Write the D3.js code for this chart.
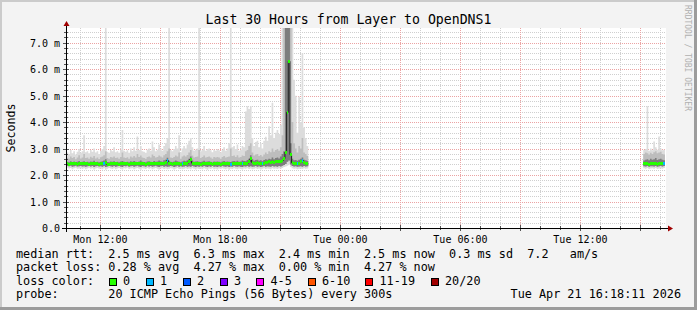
<!DOCTYPE html>
<html>
<head>
<meta charset="utf-8">
<script src="https://cdn.jsdelivr.net/npm/d3@7"></script>
<style>
html, body { margin: 0; padding: 0; background: #f3f3f3; }
svg { display: block; }
text { font-family: "DejaVu Sans Mono", monospace; }
</style>
</head>
<body>
<div id="chart"></div>
<script>
// chart text + data
const title = "Last 30 Hours from Layer to OpenDNS1";
const yUnit = "Seconds";
const watermark = "RRDTOOL / TOBI OETIKER";
const viewStart = new Date(2026, 3, 20, 10, 18, 11);
const viewEnd = new Date(2026, 3, 21, 16, 18, 11);
const yMax = 7.556;            // ms
const yTicks = [0, 1, 2, 3, 4, 5, 6, 7];
const xLabelTimes = [new Date(2026, 3, 20, 12), new Date(2026, 3, 20, 18), new Date(2026, 3, 21, 0),
                     new Date(2026, 3, 21, 6), new Date(2026, 3, 21, 12)];
const stepMinutes = 5;

// first block of samples (Mon 10:20 -> Mon 22:25), values in ms
const startA = new Date(2026, 3, 20, 10, 20);
const medianA = [
  2.42,2.41,2.42,2.43,2.42,2.42,2.41,2.42,2.43,2.42, 2.42,2.43,2.42,2.41,2.42,2.42,2.43,2.42,2.42,2.41,
  2.42,2.43,2.45,2.47,2.41,2.40,2.42,2.42,2.43,2.42, 2.42,2.41,2.42,2.43,2.42,2.42,2.42,2.41,2.43,2.42,
  2.43,2.42,2.42,2.42,2.44,2.42,2.42,2.41,2.42,2.43, 2.42,2.42,2.43,2.42,2.42,2.44,2.43,2.42,2.45,2.48,
  2.55,2.44,2.42,2.41,2.42,2.45,2.43,2.42,2.41,2.42, 2.44,2.43,2.45,2.52,2.60,2.45,2.42,2.42,2.43,2.42,
  2.41,2.42,2.44,2.42,2.42,2.43,2.42,2.41,2.42,2.42, 2.42,2.42,2.41,2.42,2.43,2.42,2.42,2.42,2.41,2.42,
  2.43,2.42,2.43,2.42,2.42,2.44,2.43,2.42,2.45,2.50, 2.62,2.48,2.43,2.45,2.46,2.43,2.44,2.42,2.45,2.48,
  2.46,2.50,2.48,2.52,2.48,2.50,2.52,2.50,2.52,2.55, 2.62,2.87,4.37,6.30,2.77,2.47,2.44,2.45,2.43,2.45,
  2.50,2.55,2.47,2.45,2.43];
const minA = [
  2.28,2.25,2.27,2.22,2.26,2.28,2.24,2.25,2.27,2.23, 2.26,2.22,2.25,2.28,2.24,2.26,2.21,2.25,2.27,2.24,
  2.25,2.22,2.26,2.20,2.24,2.27,2.25,2.23,2.26,2.22, 2.25,2.27,2.24,2.21,2.26,2.25,2.28,2.23,2.25,2.26,
  2.22,2.25,2.27,2.24,2.20,2.26,2.25,2.23,2.27,2.24, 2.26,2.22,2.25,2.27,2.24,2.21,2.25,2.26,2.23,2.25,
  2.22,2.24,2.26,2.25,2.21,2.24,2.27,2.23,2.25,2.22, 2.24,2.26,2.23,2.25,2.22,2.26,2.24,2.21,2.25,2.23,
  2.25,2.22,2.26,2.24,2.20,2.25,2.23,2.26,2.22,2.24, 2.21,2.25,2.23,2.26,2.24,2.22,2.25,2.20,2.24,2.23,
  2.26,2.24,2.22,2.25,2.23,2.21,2.25,2.24,2.26,2.23, 2.25,2.22,2.24,2.26,2.23,2.25,2.21,2.24,2.26,2.23,
  2.25,2.24,2.22,2.26,2.24,2.25,2.23,2.26,2.24,2.27, 2.30,2.32,2.35,2.40,2.30,2.26,2.24,2.25,2.22,2.24,
  2.25,2.23,2.26,2.24,2.25];
const lowA = [
  2.34,2.33,2.35,2.31,2.33,2.35,2.32,2.33,2.34,2.32, 2.33,2.31,2.33,2.35,2.32,2.34,2.30,2.33,2.34,2.32,
  2.33,2.31,2.34,2.30,2.32,2.34,2.33,2.31,2.34,2.31, 2.33,2.35,2.32,2.30,2.34,2.33,2.35,2.31,2.33,2.34,
  2.31,2.33,2.35,2.32,2.30,2.34,2.33,2.31,2.35,2.32, 2.34,2.31,2.33,2.35,2.32,2.30,2.33,2.34,2.31,2.33,
  2.31,2.32,2.34,2.33,2.30,2.32,2.35,2.31,2.33,2.31, 2.32,2.34,2.31,2.33,2.31,2.34,2.32,2.30,2.33,2.31,
  2.33,2.31,2.34,2.32,2.30,2.33,2.31,2.34,2.31,2.32, 2.30,2.33,2.31,2.34,2.32,2.31,2.33,2.30,2.32,2.31,
  2.34,2.32,2.31,2.33,2.31,2.30,2.33,2.32,2.34,2.31, 2.33,2.31,2.32,2.34,2.31,2.33,2.30,2.32,2.34,2.31,
  2.33,2.32,2.31,2.34,2.32,2.33,2.31,2.34,2.32,2.35, 2.38,2.42,2.50,2.55,2.40,2.34,2.32,2.33,2.31,2.32,
  2.33,2.31,2.34,2.32,2.33];
const coreA = [
  2.50,2.48,2.52,2.49,2.51,2.47,2.50,2.53,2.49,2.50, 2.52,2.49,2.50,2.48,2.51,2.50,2.54,2.49,2.50,2.48,
  2.50,2.52,2.55,2.60,2.49,2.48,2.51,2.50,2.52,2.49, 2.50,2.48,2.51,2.53,2.50,2.49,2.50,2.48,2.52,2.50,
  2.53,2.50,2.49,2.51,2.55,2.50,2.49,2.48,2.51,2.52, 2.50,2.49,2.53,2.50,2.51,2.55,2.52,2.50,2.56,2.58,
  2.65,2.54,2.50,2.49,2.51,2.55,2.52,2.50,2.48,2.51, 2.54,2.52,2.56,2.62,2.70,2.55,2.50,2.51,2.52,2.50,
  2.49,2.51,2.54,2.50,2.51,2.52,2.50,2.48,2.51,2.50, 2.51,2.50,2.48,2.51,2.53,2.50,2.51,2.50,2.49,2.52,
  2.53,2.51,2.54,2.50,2.51,2.55,2.53,2.52,2.57,2.62, 2.75,2.60,2.54,2.57,2.58,2.54,2.56,2.52,2.57,2.60,
  2.58,2.62,2.60,2.66,2.60,2.64,2.66,2.63,2.70,2.80, 2.90,7.60,7.60,7.60,3.20,2.62,2.56,2.57,2.54,2.58,
  2.62,2.66,2.58,2.56,2.53];
const highA = [
  2.65,2.62,2.70,2.64,2.68,2.60,2.66,2.75,2.63,2.66, 2.80,2.64,2.66,2.62,2.69,2.65,2.72,2.63,2.66,2.61,
  2.67,2.70,2.75,2.90,2.64,2.62,2.68,2.66,2.70,2.64, 2.66,2.62,2.68,2.85,2.66,2.64,2.67,2.62,2.70,2.66,
  2.72,2.66,2.80,2.68,2.74,2.66,2.64,2.62,2.68,2.70, 2.66,2.78,2.72,2.66,2.68,2.74,2.70,2.66,2.75,2.80,
  2.90,3.00,2.66,2.64,2.68,2.74,2.70,2.85,2.62,2.70, 2.74,2.70,2.76,2.85,2.95,2.74,2.66,2.68,2.70,2.95,
  2.64,2.68,2.74,2.66,2.68,2.70,2.66,2.62,2.68,2.66, 2.68,2.66,2.62,2.68,2.72,2.66,2.68,2.70,3.00,2.72,
  2.74,2.68,2.75,2.66,2.68,2.74,2.72,2.90,2.95,3.10, 3.20,2.85,2.74,2.78,2.80,2.72,2.76,2.70,2.78,2.85,
  2.80,2.90,2.86,3.00,2.88,2.95,2.98,2.92,3.05,3.50, 7.60,7.60,7.60,7.60,7.60,4.00,3.20,3.00,2.85,3.10,
  3.00,3.40,2.85,2.80,2.72];
const maxA = [
  2.85,2.80,2.95,2.82,2.90,2.78,2.88,2.98,2.84,2.90, 3.50,2.86,2.90,2.82,2.95,2.88,3.00,2.85,2.90,2.80,
  2.92,2.98,3.10,7.60,2.88,2.84,2.95,2.90,3.05,2.86, 2.90,2.84,2.96,3.70,2.92,2.88,2.94,2.84,3.00,2.90,
  3.05,2.92,3.46,2.95,3.10,2.90,2.88,2.84,2.96,3.00, 2.92,3.27,3.05,2.90,2.96,3.15,3.00,2.92,3.10,3.20,
  3.40,7.60,2.95,2.90,2.98,3.10,3.00,3.50,2.86,3.00, 3.10,3.00,3.15,3.30,3.40,3.05,2.92,2.96,3.00,7.60,
  2.90,2.96,3.10,2.92,2.98,3.00,2.94,2.86,2.96,2.92, 2.98,2.94,2.86,2.96,3.05,2.92,3.00,3.20,7.60,3.05,
  3.10,2.98,3.15,2.92,2.96,3.10,3.05,4.40,4.60,4.50, 4.60,3.40,3.10,3.25,3.30,3.05,3.20,3.00,3.30,3.45,
  3.30,3.84,3.50,4.73,3.40,3.60,3.70,3.55,3.90,7.60, 7.60,7.60,7.60,7.60,7.60,7.60,5.60,5.00,3.60,4.97,
  4.00,6.60,3.80,3.40,3.10];
const lossA = [[22, 1], [60, 1], [69, 1], [98, 1], [105, 1], [117, 1], [138, 1], [141, 1]];

// second block of samples (Tue 15:10 -> Tue 16:15)
const startB = new Date(2026, 3, 21, 15, 10);
const medianB = [2.42,2.42,2.43,2.41,2.42,2.42,2.43,2.42,2.41,2.42,2.43,2.42,2.44];
const minB    = [2.26,2.24,2.27,2.23,2.25,2.26,2.24,2.27,2.23,2.25,2.26,2.24,2.27];
const lowB    = [2.33,2.32,2.34,2.31,2.33,2.33,2.32,2.34,2.31,2.33,2.34,2.32,2.34];
const coreB   = [2.55,2.58,2.60,2.56,2.62,2.58,2.60,2.64,2.57,2.60,2.62,2.58,2.56];
const highB   = [2.80,2.85,2.82,2.78,2.84,2.80,2.86,2.90,2.82,2.85,2.88,2.80,2.78];
const maxB    = [2.95,2.98,4.60,2.92,3.00,2.94,3.27,3.05,2.96,3.46,3.00,2.94,2.96];
const lossB = [[12, 1]];

// legend
const lossLabels = ["0", "1", "2", "3", "4-5", "6-10", "11-19", "20/20"];
const lossColors = ["#26ff00", "#00b8ff", "#0059ff", "#7e00ff", "#ff00ff", "#ff5500", "#ff0000", "#a10000"];
const rttStats = ["2.5 ms avg", "6.3 ms max", "2.4 ms min", "2.5 ms now", "0.3 ms sd", "7.2", "am/s"];
const lossStats = ["0.28 % avg", "4.27 % max", "0.00 % min", "4.27 % now"];
const probeText = "20 ICMP Echo Pings (56 Bytes) every 300s";
const stamp = "Tue Apr 21 16:18:11 2026";

//dims
const W = 697, H = 310;
const plot = { left: 66, right: 666, top: 28, bottom: 228 };

const svg = d3.select("#chart").append("svg")
    .attr("width", W).attr("height", H);

// frame (rrdtool shading)
svg.append("rect").attr("width", W).attr("height", H).attr("fill", "#f3f3f3");
svg.append("rect").attr("x", 0).attr("y", 0).attr("width", W).attr("height", 2).attr("fill", "#cbcbcb");
svg.append("rect").attr("x", 0).attr("y", 0).attr("width", 2).attr("height", H).attr("fill", "#cbcbcb");
svg.append("rect").attr("x", W - 3).attr("y", 0).attr("width", 3).attr("height", H).attr("fill", "#9c9c9c");
svg.append("rect").attr("x", 0).attr("y", H - 3).attr("width", W).attr("height", 3).attr("fill", "#9c9c9c");

svg.append("rect")
    .attr("x", plot.left).attr("y", plot.top)
    .attr("width", plot.right - plot.left).attr("height", plot.bottom - plot.top)
    .attr("fill", "#ffffff");

//scales
const x = d3.scaleTime().domain([viewStart, viewEnd]).range([plot.left, plot.right]);
const y = d3.scaleLinear().domain([0, yMax]).range([plot.bottom, plot.top]).clamp(true);

const px = v => Math.round(v) + 0.5;

// grid
const grid = svg.append("g").attr("fill", "none").attr("stroke-dasharray", "1,1");
const minorY = d3.range(1, Math.floor(yMax * 5) + 1).map(k => k / 5).filter(v => Math.abs(v - Math.round(v)) > 1e-6);
grid.selectAll(".hmin").data(minorY).join("line")
    .attr("x1", plot.left).attr("x2", plot.right)
    .attr("y1", d => px(y(d))).attr("y2", d => px(y(d)))
    .attr("stroke", "#cfcfcf");
const hours = d3.timeHour.range(viewStart, viewEnd);
grid.selectAll(".vmin").data(hours.filter(h => h.getHours() % 3 !== 0)).join("line")
    .attr("x1", d => px(x(d))).attr("x2", d => px(x(d)))
    .attr("y1", plot.top).attr("y2", plot.bottom)
    .attr("stroke", "#cfcfcf");
grid.selectAll(".hmaj").data(yTicks.filter(v => v > 0)).join("line")
    .attr("x1", plot.left).attr("x2", plot.right)
    .attr("y1", d => px(y(d))).attr("y2", d => px(y(d)))
    .attr("stroke", "#eba3a3");
grid.selectAll(".vmaj").data(hours.filter(h => h.getHours() % 3 === 0)).join("line")
    .attr("x1", d => px(x(d))).attr("x2", d => px(x(d)))
    .attr("y1", plot.top).attr("y2", plot.bottom)
    .attr("stroke", "#eba3a3");

// samples -> step points
function block(start, med, mn, lo, core, hi, mx, loss) {
    const n = med.length;
    const t = i => d3.timeMinute.offset(start, i * stepMinutes);
    const pts = d3.range(n + 1).map(i => {
        const k = Math.min(i, n - 1);
        return { t: t(i), med: med[k], min: mn[k], lo: lo[k], core: core[k], hi: hi[k], max: mx[k] };
    });
    const lossMap = new Map(loss);
    const steps = d3.range(n).map(i => ({ t0: t(i), t1: t(i + 1), med: med[i], loss: lossMap.get(i) || 0 }));
    return { pts, steps };
}
const blocks = [
    block(startA, medianA, minA, lowA, coreA, highA, maxA, lossA),
    block(startB, medianB, minB, lowB, coreB, highB, maxB, lossB)
];

const bands = [
    { lo: "min", hi: "max", color: "#dcdcdc" },
    { lo: "lo", hi: "hi", color: "#bdbdbd" },
    { lo: "lo", hi: "core", color: "#7d7d7d" }
];
const smoke = svg.append("g");
blocks.forEach(b => {
    bands.forEach(band => {
        smoke.append("path")
            .datum(b.pts)
            .attr("fill", band.color)
            .attr("d", d3.area().curve(d3.curveStepAfter)
                .x(d => x(d.t)).y0(d => y(d[band.lo])).y1(d => y(d[band.hi])));
    });
    smoke.append("path")
        .datum(b.pts)
        .attr("fill", "none").attr("stroke", "#202020").attr("stroke-width", 1)
        .attr("d", d3.line().curve(d3.curveStepAfter).x(d => x(d.t)).y(d => y(d.med)));
});

const lossIndex = n => n === 0 ? 0 : n === 1 ? 1 : n === 2 ? 2 : n === 3 ? 3 : n <= 5 ? 4 : n <= 10 ? 5 : n <= 19 ? 6 : 7;
blocks.forEach(b => {
    svg.append("g").selectAll("rect").data(b.steps).join("rect")
        .attr("shape-rendering", "crispEdges")
        .attr("x", d => x(d.t0))
        .attr("width", d => x(d.t1) - x(d.t0))
        .attr("y", d => y(d.med) - 1.5)
        .attr("height", 3)
        .attr("fill", d => lossColors[lossIndex(d.loss)]);
});

// axes
const yAxis = svg.append("g")
    .attr("transform", `translate(${plot.left - 6},0)`)
    .call(d3.axisLeft(y).tickValues(yTicks).tickSize(0)
        .tickFormat(d => d === 0 ? "0.0" : d.toFixed(1) + " m"));
yAxis.select(".domain").remove();
yAxis.selectAll("text").attr("font-size", 10).attr("fill", "#000")
    .attr("font-family", "DejaVu Sans Mono").attr("dy", "0.35em").attr("x", 0);

const xAxis = svg.append("g")
    .attr("transform", `translate(0,${plot.bottom + 8})`)
    .call(d3.axisBottom(x).tickValues(xLabelTimes).tickSize(0)
        .tickFormat(d3.timeFormat("%a %H:%M")));
xAxis.select(".domain").remove();
xAxis.selectAll("text").attr("font-size", 10).attr("fill", "#000")
    .attr("font-family", "DejaVu Sans Mono").attr("dy", "0.71em").attr("y", 0);

// axis ticks
const ticks = svg.append("g").attr("stroke", "#555").attr("stroke-width", 1);
minorY.forEach(v => ticks.append("line").attr("x1", plot.left - 2).attr("x2", plot.left + 2)
    .attr("y1", px(y(v))).attr("y2", px(y(v))));
yTicks.forEach(v => ticks.append("line").attr("x1", plot.left - 3).attr("x2", plot.left + 3)
    .attr("y1", px(y(v))).attr("y2", px(y(v))));
hours.forEach(h => ticks.append("line").attr("y1", plot.bottom - (h.getHours() % 3 ? 2 : 3))
    .attr("y2", plot.bottom + (h.getHours() % 3 ? 2 : 3))
    .attr("x1", px(x(h))).attr("x2", px(x(h))));

svg.append("line").attr("x1", plot.left - 4).attr("x2", plot.right + 2)
    .attr("y1", plot.bottom + 0.5).attr("y2", plot.bottom + 0.5).attr("stroke", "#000");
svg.append("line").attr("x1", plot.left + 0.5).attr("x2", plot.left + 0.5)
    .attr("y1", plot.bottom + 4).attr("y2", plot.top - 2).attr("stroke", "#000");
svg.append("path").attr("fill", "#a00000")
    .attr("d", `M${plot.left - 2.5},${plot.top - 2}L${plot.left + 3.5},${plot.top - 2}L${plot.left + 0.5},${plot.top - 7}Z`);
svg.append("path").attr("fill", "#a00000")
    .attr("d", `M${plot.right + 2},${plot.bottom - 2.5}L${plot.right + 2},${plot.bottom + 3.5}L${plot.right + 7},${plot.bottom + 0.5}Z`);

// title / labels
svg.append("text").attr("x", W / 2).attr("y", 24).attr("text-anchor", "middle")
    .attr("font-size", 13.2).text(title);
svg.append("text").attr("transform", "translate(15,128) rotate(-90)").attr("text-anchor", "middle")
    .attr("font-size", 11.6).text(yUnit);
svg.append("text").attr("transform", "translate(685,5) rotate(90)")
    .attr("font-size", 8).attr("fill", "#b0b0b0").text(watermark);

// legend (monospace columns, ~7.1px per char)
const cw = 7.1, lx = 16;
const col = c => lx + c * cw;
const lg = svg.append("g").attr("font-size", 11.8).attr("fill", "#000");
const rowY = [257.5, 271, 284.5, 298];
lg.append("text").attr("x", lx).attr("y", rowY[0]).text("median rtt:");
[13, 25, 37, 49, 61, 72, 78].forEach((c, i) =>
    lg.append("text").attr("x", col(c)).attr("y", rowY[0]).text(rttStats[i]));
lg.append("text").attr("x", lx).attr("y", rowY[1]).text("packet loss:");
[13, 25, 37, 49].forEach((c, i) =>
    lg.append("text").attr("x", col(c)).attr("y", rowY[1]).text(lossStats[i]));
lg.append("text").attr("x", lx).attr("y", rowY[2]).text("loss color:");
[108.5, 145.5, 182.5, 219.5, 256, 307.5, 365, 430.5].forEach((xx, i) => {
    lg.append("rect").attr("x", Math.round(xx) + 0.5).attr("y", 278.5).attr("width", 7).attr("height", 7)
        .attr("fill", lossColors[i]).attr("stroke", "#000");
    lg.append("text").attr("x", xx + 14.5).attr("y", rowY[2]).text(lossLabels[i]);
});
lg.append("text").attr("x", lx).attr("y", rowY[3]).text("probe:");
lg.append("text").attr("x", col(13)).attr("y", rowY[3]).text(probeText);
lg.append("text").attr("x", 681).attr("y", rowY[3]).attr("text-anchor", "end").text(stamp);
</script>
</body>
</html>
